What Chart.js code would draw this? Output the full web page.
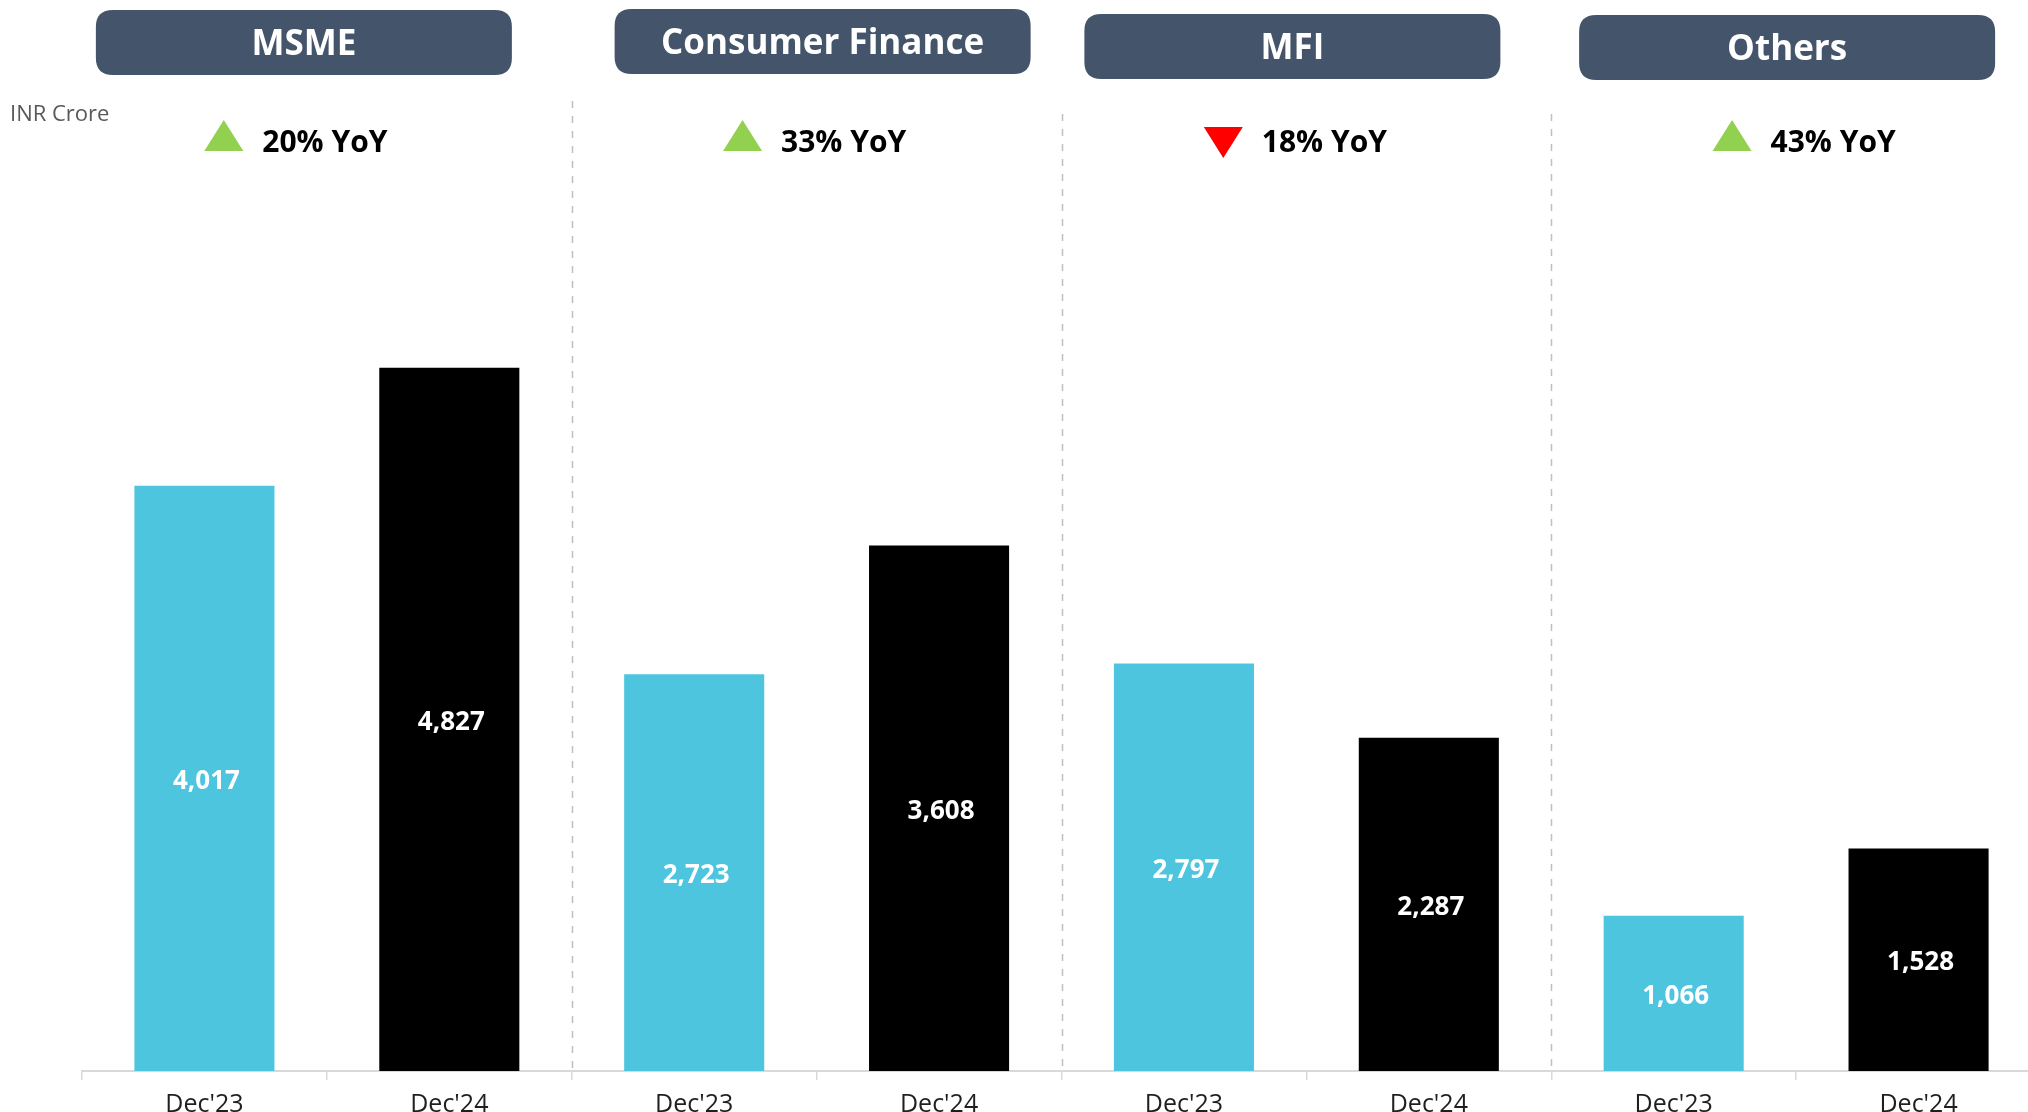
<!DOCTYPE html>
<html><head><meta charset="utf-8">
<script src="https://cdn.jsdelivr.net/npm/chart.js@4/dist/chart.umd.min.js"></script>
<style>html,body{margin:0;padding:0;overflow:hidden;background:#fff}
#wrap{position:relative;width:2050px;height:1112px}
</style></head><body><div id="wrap"><canvas id="c" width="2050" height="1112"></canvas></div>
<script>
// ---- data ----
const segments = ['MSME', 'Consumer Finance', 'MFI', 'Others'];
const periods = ["Dec'23", "Dec'24"];
const dec23 = [4017, 2723, 2797, 1066];
const dec24 = [4827, 3608, 2287, 1528];
const yoyPct = [20, 33, -18, 43];
const unitLabel = 'INR Crore';

// ---- build library structures ----
const labels = [], values = [], colors = [];
segments.forEach((s, i) => {
  labels.push(periods[0], periods[1]);
  values.push(dec23[i], dec24[i]);
  colors.push('#4EC5DF', '#000000');
});

// ---- layout (decoration only) ----
const FONT = "'Open Sans', 'Noto Sans', sans-serif";
const boxOff = [-23, 6, -14, -9];
const boxTop = [10, 9, 14, 15];
const yoyOff = [-31, -2, -11, 8];
const sepTop = [101, 114, 114];

function rr(ctx, x, y, w, h, r) {
  ctx.beginPath();
  ctx.moveTo(x + r, y);
  ctx.lineTo(x + w - r, y); ctx.quadraticCurveTo(x + w, y, x + w, y + r);
  ctx.lineTo(x + w, y + h - r); ctx.quadraticCurveTo(x + w, y + h, x + w - r, y + h);
  ctx.lineTo(x + r, y + h); ctx.quadraticCurveTo(x, y + h, x, y + h - r);
  ctx.lineTo(x, y + r); ctx.quadraticCurveTo(x, y, x + r, y);
  ctx.closePath();
}

const deco = {
  id: 'deco',
  beforeDatasetsDraw(chart) {
    const ctx = chart.ctx, xs = chart.scales.x, area = chart.chartArea;
    ctx.save();
    ctx.strokeStyle = '#BFBFBF';
    ctx.lineWidth = 1.5;
    ctx.setLineDash([7, 8]);
    for (let g = 0; g < segments.length - 1; g++) {
      const bx = (xs.getPixelForValue(2 * g + 1) + xs.getPixelForValue(2 * g + 2)) / 2;
      ctx.beginPath();
      ctx.moveTo(Math.round(bx) + 0.5, sepTop[g]);
      ctx.lineTo(Math.round(bx) + 0.5, area.bottom);
      ctx.stroke();
    }
    ctx.restore();
  },
  afterDatasetsDraw(chart) {
    const ctx = chart.ctx, xs = chart.scales.x;
    ctx.save();
    // value labels
    const meta = chart.getDatasetMeta(0);
    ctx.fillStyle = '#FFFFFF';
    ctx.font = `bold 26px ${FONT}`;
    ctx.textAlign = 'center';
    ctx.textBaseline = 'middle';
    meta.data.forEach((bar, i) => {
      ctx.fillText(values[i].toLocaleString('en-US'), bar.x + 2, (bar.y + bar.base) / 2 + 3);
    });
    // unit label
    ctx.fillStyle = '#595959';
    ctx.font = `22px ${FONT}`;
    ctx.textAlign = 'left';
    ctx.fillText(unitLabel, 10, 115);
    // headers + yoy
    segments.forEach((s, g) => {
      const gc = (xs.getPixelForValue(2 * g) + xs.getPixelForValue(2 * g + 1)) / 2;
      const bw = 416, bh = 65;
      const bx = gc + boxOff[g] - bw / 2;
      ctx.fillStyle = '#44546A';
      rr(ctx, bx, boxTop[g], bw, bh, 17);
      ctx.fill();
      ctx.fillStyle = '#FFFFFF';
      ctx.font = `bold 35px ${FONT}`;
      ctx.textAlign = 'center';
      ctx.textBaseline = 'middle';
      ctx.fillText(s, bx + bw / 2, boxTop[g] + bh / 2 + 3);

      const txt = Math.abs(yoyPct[g]) + '% YoY';
      ctx.font = `bold 30px ${FONT}`;
      const tw = ctx.measureText(txt).width;
      const triW = 39, triH = 31, gap = 19;
      const uw = triW + gap + tw;
      const sx = gc + yoyOff[g] - uw / 2;
      const cy = 140;
      ctx.beginPath();
      if (yoyPct[g] >= 0) {
        ctx.fillStyle = '#92D050';
        ctx.moveTo(sx, cy + 11); ctx.lineTo(sx + triW, cy + 11); ctx.lineTo(sx + triW / 2, cy - 20);
      } else {
        ctx.fillStyle = '#FF0000';
        ctx.moveTo(sx, cy - 13); ctx.lineTo(sx + triW, cy - 13); ctx.lineTo(sx + triW / 2, cy + 18);
      }
      ctx.closePath();
      ctx.fill();
      ctx.fillStyle = '#000000';
      ctx.textAlign = 'left';
      ctx.fillText(txt, sx + triW + gap, cy + 3);
    });
    ctx.restore();
  }
};

new Chart(document.getElementById('c'), {
  type: 'bar',
  data: {
    labels: labels,
    datasets: [{
      data: values,
      backgroundColor: colors,
      borderWidth: 0,
      barPercentage: 0.572,
      categoryPercentage: 1.0
    }]
  },
  options: {
    responsive: false,
    animation: false,
    devicePixelRatio: 1,
    layout: { padding: { left: 82, right: 9, top: 197, bottom: 0 } },
    plugins: { legend: { display: false }, tooltip: { enabled: false } },
    scales: {
      x: {
        offset: true,
        grid: { display: true, offset: true, drawOnChartArea: false, drawTicks: true, tickLength: 9, color: '#D9D9D9', lineWidth: 1.5 },
        border: { display: true, color: '#D9D9D9', width: 2 },
        ticks: { color: '#1F1F1F', font: { family: FONT, size: 25 }, padding: 10, maxRotation: 0, autoSkip: false },
        afterFit: s => { s.height = 41; }
      },
      y: { display: false, min: 0, max: 6000 }
    }
  },
  plugins: [deco]
});
</script></body></html>
